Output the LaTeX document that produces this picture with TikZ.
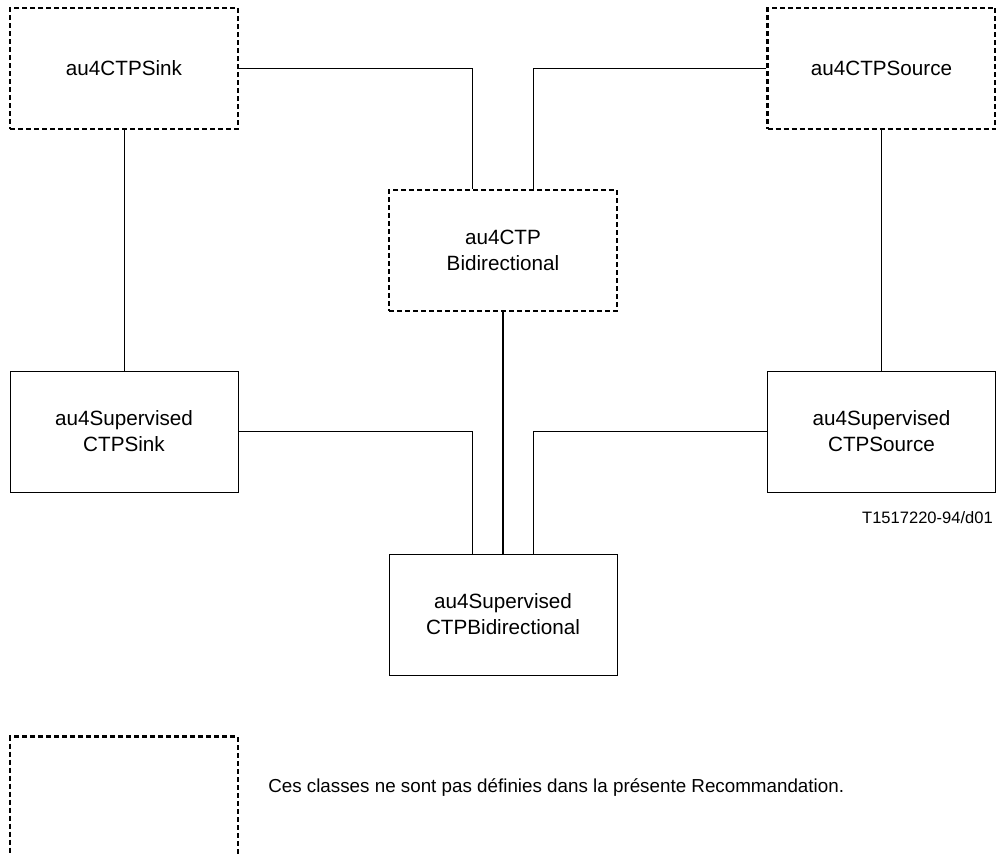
\documentclass[tikz,border=0pt]{standalone}
\usepackage{fontspec}
\setmainfont{Liberation Sans}
\usetikzlibrary{positioning}
\usetikzlibrary{calc}

\tikzset{
  classbox/.style={draw, line width=0.75pt, minimum width=171pt, minimum height=90.75pt,
    align=center, inner sep=0pt, font=\fontsize{15.5}{19.5}\selectfont},
  extbox/.style={classbox, line width=1.8pt, dash pattern=on 3.75pt off 2.25pt},
  link/.style={line width=0.75pt},
}

\begin{document}
\begin{tikzpicture}[x=0.75pt,y=-0.75pt,]
\useasboundingbox (0,0) rectangle (996,854);

\node [extbox] (sink) at (124,68.5) {au4CTPSink};
\node [extbox] (source) at (881.5,68.5) {au4CTPSource};
\node [extbox] (ctp) at (503,250.5) {au4CTP\\Bidirectional};
\node [classbox] (supSink) at (124,431.5) {au4Supervised\\CTPSink};
\node [classbox] (supSource) at (881.5,431.5) {au4Supervised\\CTPSource};
\node [classbox] (supBi) at (503,614.5) {au4Supervised\\CTPBidirectional};
\node [font=\fontsize{12.4}{14}\selectfont, inner sep=0pt, anchor=east] (tag) at (993,518) {T1517220-94/d01};

\draw [link] (sink.east) -| ($(ctp.north)+(-31,0)$);
\draw [link] (source.west) -| ($(ctp.north)+(30,0)$);
\draw [link] (sink.south) -- (supSink.north);
\draw [link] (source.south) -- (supSource.north);
\draw [line width=1.2pt] (ctp.south) -- (supBi.north);
\draw [link] (supSink.east) -| ($(supBi.north)+(-31,0)$);
\draw [link] (supSource.west) -| ($(supBi.north)+(30,0)$);

% legend
\node [extbox] (legend) at (124,797) {};
\node [font=\fontsize{14.1}{17}\selectfont, inner sep=0pt, anchor=base west] (legendText) at (268,792)
  {Ces classes ne sont pas définies dans la présente Recommandation.};
\end{tikzpicture}
\end{document}
